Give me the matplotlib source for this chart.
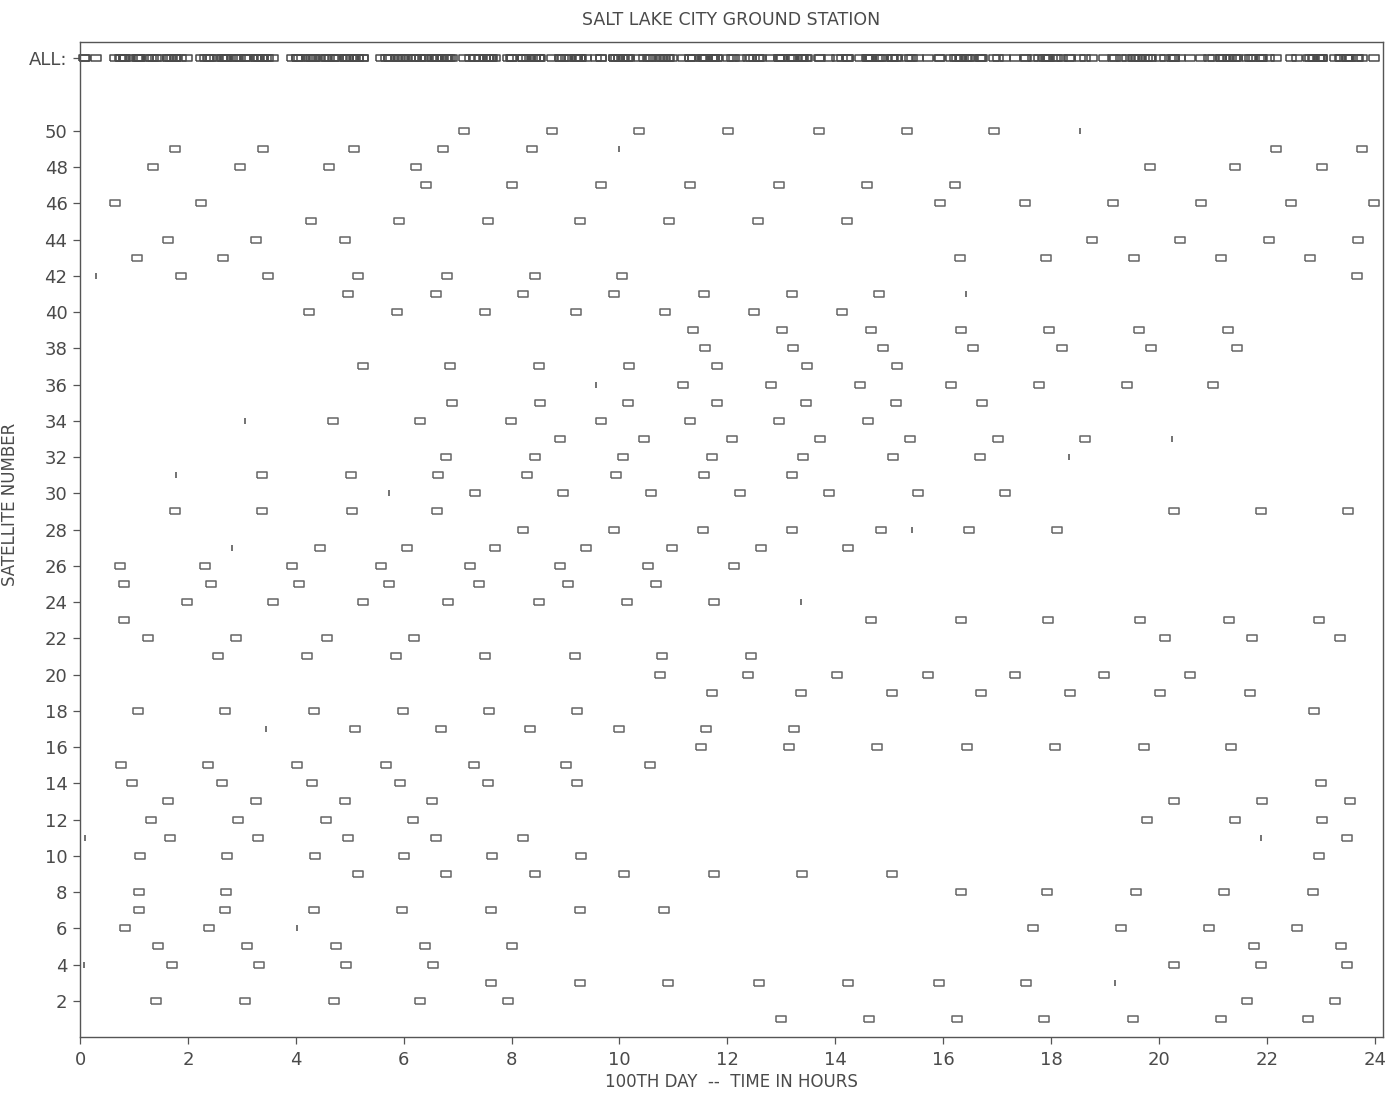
import matplotlib
matplotlib.use("Agg")
import matplotlib.pyplot as plt

# pass times (hours) per satellite
sat01 = [13.00, 14.63, 16.26, 17.87, 19.52, 21.15, 22.76]
sat02 = [1.41, 3.06, 4.70, 6.31, 7.94, 21.63, 23.26]
sat03 = [7.61, 9.26, 10.89, 12.59, 14.24, 15.93, 17.54]
sat04 = [1.70, 3.31, 4.93, 6.54, 20.28, 21.89, 23.48]
sat05 = [1.44, 3.09, 4.74, 6.39, 8.00, 21.76, 23.37]
sat06 = [0.83, 2.39, 17.67, 19.30, 20.93, 22.56]
sat07 = [1.09, 2.69, 4.33, 5.96, 7.61, 9.26, 10.83]
sat08 = [1.09, 2.70, 16.33, 17.93, 19.57, 21.20, 22.85]
sat09 = [5.15, 6.78, 8.43, 10.09, 11.76, 13.39, 15.06]
sat10 = [1.11, 2.72, 4.35, 6.00, 7.63, 9.28, 22.96]
sat11 = [1.67, 3.30, 4.96, 6.59, 8.22, 23.48]
sat12 = [1.31, 2.93, 4.56, 6.17, 19.78, 21.41, 23.02]
sat13 = [1.63, 3.26, 4.91, 6.52, 20.28, 21.91, 23.54]
sat14 = [0.96, 2.63, 4.30, 5.93, 7.57, 9.22, 23.00]
sat15 = [0.76, 2.37, 4.02, 5.67, 7.31, 9.00, 10.57]
sat16 = [11.52, 13.15, 14.78, 16.44, 18.07, 19.72, 21.33]
sat17 = [5.09, 6.69, 8.35, 10.00, 11.61, 13.24]
sat18 = [1.07, 2.69, 4.33, 5.98, 7.59, 9.22, 22.87]
sat19 = [11.72, 13.37, 15.06, 16.70, 18.35, 20.02, 21.69]
sat20 = [10.76, 12.39, 14.04, 15.72, 17.33, 18.98, 20.57]
sat21 = [2.56, 4.20, 5.85, 7.50, 9.17, 10.78, 12.44]
sat22 = [1.26, 2.89, 4.57, 6.20, 20.11, 21.72, 23.35]
sat23 = [0.81, 14.67, 16.33, 17.94, 19.65, 21.30, 22.96]
sat24 = [1.98, 3.57, 5.24, 6.83, 8.50, 10.13, 11.76]
sat25 = [0.81, 2.43, 4.06, 5.72, 7.39, 9.04, 10.67]
sat26 = [0.74, 2.31, 3.93, 5.57, 7.22, 8.89, 10.52, 12.13]
sat27 = [4.44, 6.07, 7.70, 9.37, 10.98, 12.63, 14.24]
sat28 = [8.22, 9.89, 11.54, 13.19, 14.85, 16.48, 18.11]
sat29 = [1.76, 3.37, 5.04, 6.61, 20.28, 21.89, 23.50]
sat30 = [7.33, 8.96, 10.59, 12.24, 13.89, 15.54, 17.15]
sat31 = [3.37, 5.02, 6.63, 8.28, 9.94, 11.57, 13.19]
sat32 = [6.78, 8.44, 10.07, 11.72, 13.41, 15.07, 16.69]
sat33 = [8.89, 10.46, 12.09, 13.72, 15.39, 17.02, 18.63]
sat34 = [4.69, 6.31, 7.98, 9.65, 11.31, 12.96, 14.61]
sat35 = [6.89, 8.52, 10.15, 11.80, 13.46, 15.13, 16.72]
sat36 = [11.17, 12.81, 14.46, 16.15, 17.78, 19.41, 21.00]
sat37 = [5.24, 6.85, 8.50, 10.17, 11.81, 13.48, 15.15]
sat38 = [11.59, 13.22, 14.89, 16.56, 18.20, 19.85, 21.44]
sat39 = [11.37, 13.02, 14.67, 16.33, 17.96, 19.63, 21.28]
sat40 = [4.24, 5.87, 7.50, 9.19, 10.85, 12.50, 14.13]
sat41 = [4.96, 6.59, 8.22, 9.89, 11.56, 13.20, 14.81]
sat42 = [1.87, 3.48, 5.15, 6.80, 8.44, 10.04, 23.67]
sat43 = [1.06, 2.65, 16.31, 17.91, 19.54, 21.15, 22.80]
sat44 = [1.63, 3.26, 4.91, 18.76, 20.39, 22.04, 23.69]
sat45 = [4.28, 5.91, 7.57, 9.26, 10.91, 12.57, 14.22]
sat46 = [0.65, 2.24, 15.94, 17.52, 19.15, 20.78, 22.44, 23.98]
sat47 = [6.41, 8.00, 9.65, 11.30, 12.96, 14.59, 16.22]
sat48 = [1.35, 2.96, 4.61, 6.22, 19.83, 21.41, 23.02]
sat49 = [1.76, 3.39, 5.07, 6.72, 8.37, 22.17, 23.76]
sat50 = [7.11, 8.74, 10.37, 12.02, 13.69, 15.33, 16.94]

# very short passes (drawn as tiny ticks): satellite numbers and times
brief_sat = [50, 49, 42, 41, 36, 34, 33, 32, 31, 30, 28, 27, 24, 17, 11, 11, 6, 4, 3]
brief_hour = [18.54, 10.00, 0.30, 16.43, 9.56, 3.06, 20.24, 18.33, 1.78, 5.72,
              15.43, 2.81, 13.37, 3.44, 0.09, 21.89, 4.02, 0.07, 19.19]

x_ticks = [0, 2, 4, 6, 8, 10, 12, 14, 16, 18, 20, 22, 24]
y_ticks = [2, 4, 6, 8, 10, 12, 14, 16, 18, 20, 22, 24, 26, 28, 30, 32, 34, 36,
           38, 40, 42, 44, 46, 48, 50]
all_row = 54
all_label = "ALL:"

passes = [sat01, sat02, sat03, sat04, sat05, sat06, sat07, sat08, sat09, sat10,
          sat11, sat12, sat13, sat14, sat15, sat16, sat17, sat18, sat19, sat20,
          sat21, sat22, sat23, sat24, sat25, sat26, sat27, sat28, sat29, sat30,
          sat31, sat32, sat33, sat34, sat35, sat36, sat37, sat38, sat39, sat40,
          sat41, sat42, sat43, sat44, sat45, sat46, sat47, sat48, sat49, sat50]

ink = "#4a4a4a"
box = [(-1, -0.55), (1, -0.55), (1, 0.55), (-1, 0.55), (-1, -0.55)]

fig = plt.figure(figsize=(13.87, 10.93), dpi=100)
ax = fig.add_axes([0.0577, 0.0512, 0.9393, 0.9104])

all_hours = []
for i, hrs in enumerate(passes):
    sat = i + 1
    ax.plot(hrs, [sat] * len(hrs), ls="none", marker=box, ms=7, mfc="none",
            mec="#666666", mew=1.1, clip_on=False)
    all_hours.extend(hrs)

ax.plot(brief_hour, brief_sat, ls="none", marker="|", ms=4, mec="#5a5a5a",
        mew=1.2)
all_hours.extend(brief_hour)
ax.plot(all_hours, [all_row] * len(all_hours), ls="none", marker=box, ms=7,
        mfc="none", mec="#4a4a4a", mew=1.1, clip_on=False)

ax.set_xlim(0, 24.15)
ax.set_ylim(0, 54.9)
ax.set_xticks(x_ticks)
ax.set_xticklabels([str(v) for v in x_ticks])
ax.set_yticks(y_ticks + [all_row])
ax.set_yticklabels([str(v) for v in y_ticks] + [all_label])

for s in ax.spines.values():
    s.set_color("#555555")
    s.set_linewidth(1.0)
ax.tick_params(axis="both", colors="#555555", labelcolor=ink, labelsize=13,
               length=5, width=0.9, direction="out")
ax.tick_params(axis="y", pad=4)
ax.tick_params(axis="x", pad=5)

ax.set_title("SALT LAKE CITY GROUND STATION", fontsize=12.5, color=ink, pad=12)
ax.set_xlabel("100TH DAY  --  TIME IN HOURS", fontsize=12, color=ink, labelpad=3)
ax.set_ylabel("SATELLITE NUMBER", fontsize=12, color=ink)
ax.yaxis.set_label_coords(-0.047, 0.535)

fig.savefig("out.png", dpi=100, facecolor="white")
